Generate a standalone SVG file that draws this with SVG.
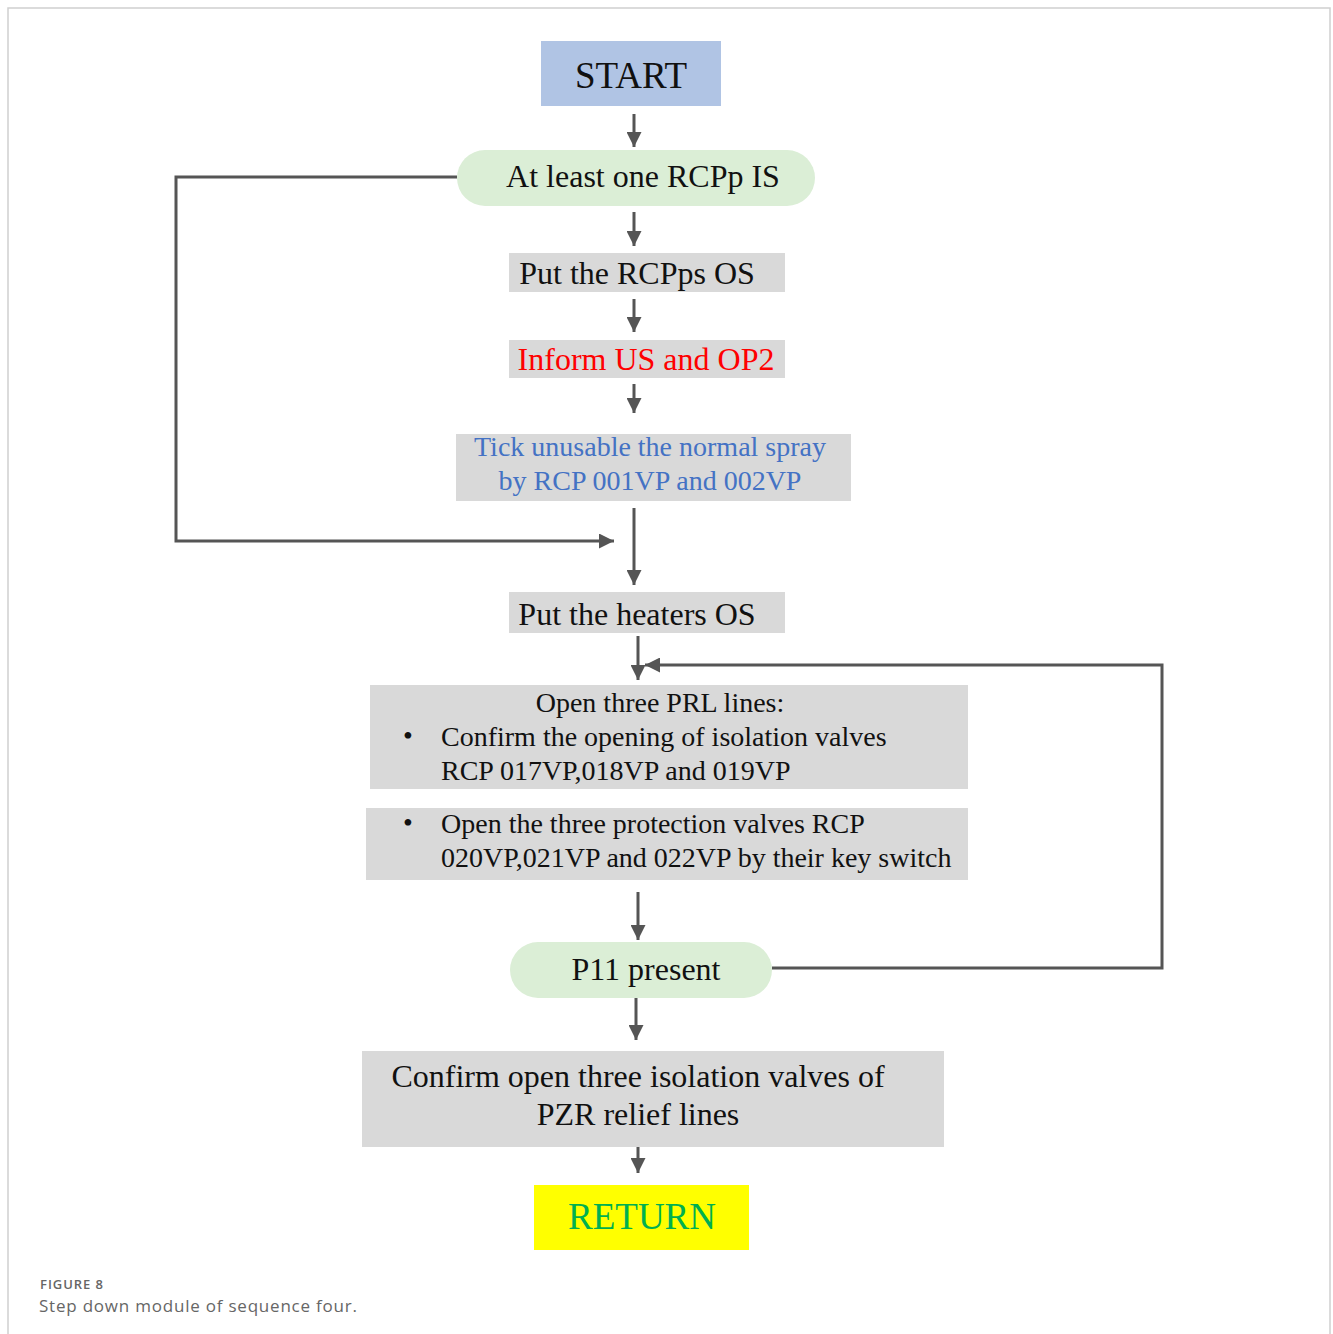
<svg xmlns="http://www.w3.org/2000/svg" width="1333" height="1334" viewBox="0 0 1333 1334">
<defs>
<style>
.t{font-family:"Liberation Serif","DejaVu Serif",serif;text-anchor:middle;fill:#111}
.l{font-family:"Liberation Serif","DejaVu Serif",serif;fill:#111}
.c{stroke:#555;stroke-width:3;fill:none}
.box{fill:#d9d9d9}
.pill{fill:#dbeed6}
.cap{font-family:"Open Sans","Noto Sans",sans-serif;fill:#666}
</style>
<marker id="ah" viewBox="0 0 10 10" refX="10" refY="5" markerWidth="5" markerHeight="5" markerUnits="strokeWidth" orient="auto">
<path d="M0,0 L10,5 L0,10 Z" fill="#555"/>
</marker>
</defs>
<rect x="0" y="0" width="1333" height="1334" fill="#fff"/>
<path d="M8,1334 V8 H1330 V1334" fill="none" stroke="#d0d0d0" stroke-width="1.5"/>

<g id="connectors">
<path class="c" d="M634,114 V147" marker-end="url(#ah)"/>
<path class="c" d="M634,212 V246" marker-end="url(#ah)"/>
<path class="c" d="M634,299 V332" marker-end="url(#ah)"/>
<path class="c" d="M634,384 V413" marker-end="url(#ah)"/>
<path class="c" d="M634,508 V585" marker-end="url(#ah)"/>
<path class="c" d="M457,177 H176 V541 H614" marker-end="url(#ah)"/>
<path class="c" d="M638,636 V680" marker-end="url(#ah)"/>
<path class="c" d="M772,968 H1162 V665 H645" marker-end="url(#ah)"/>
<path class="c" d="M638,892 V940" marker-end="url(#ah)"/>
<path class="c" d="M636,998 V1040" marker-end="url(#ah)"/>
<path class="c" d="M638,1147 V1173" marker-end="url(#ah)"/>
</g>

<g id="start">
<rect x="541" y="41" width="180" height="65" fill="#b0c4e4"/>
<text class="t" x="631" y="88" font-size="37">START</text>
</g>

<g id="rcpp-is">
<rect class="pill" x="457" y="150" width="358" height="56" rx="28"/>
<text class="t" x="643" y="187" font-size="32">At least one RCPp IS</text>
</g>

<g id="put-rcpps-os">
<rect class="box" x="509" y="253" width="276" height="39"/>
<text class="t" x="637" y="284" font-size="32">Put the RCPps OS</text>
</g>

<g id="inform">
<rect class="box" x="509" y="340" width="276" height="38"/>
<text class="t" x="646" y="370" font-size="32" style="fill:#ff0000">Inform US and OP2</text>
</g>

<g id="tick">
<rect class="box" x="456" y="434" width="395" height="67"/>
<text class="t" x="650" y="456" font-size="28" style="fill:#4472c4">Tick unusable the normal spray</text>
<text class="t" x="650" y="490" font-size="28" style="fill:#4472c4">by RCP 001VP and 002VP</text>
</g>

<g id="heaters">
<rect class="box" x="509" y="592" width="276" height="41"/>
<text class="t" x="637" y="625" font-size="32">Put the heaters OS</text>
</g>

<g id="prl">
<rect class="box" x="370" y="685" width="598" height="104"/>
<text class="t" x="660" y="712" font-size="28">Open three PRL lines:</text>
<text class="l" x="403" y="745" font-size="28">•</text>
<text class="l" x="441" y="746" font-size="28">Confirm the opening of isolation valves</text>
<text class="l" x="441" y="780" font-size="28">RCP 017VP,018VP and 019VP</text>
</g>

<g id="protection">
<rect class="box" x="366" y="808" width="602" height="72"/>
<text class="l" x="403" y="832" font-size="28">•</text>
<text class="l" x="441" y="833" font-size="28">Open the three protection valves RCP</text>
<text class="l" x="441" y="867" font-size="28">020VP,021VP and 022VP by their key switch</text>
</g>

<g id="p11">
<rect class="pill" x="510" y="942" width="262" height="56" rx="28"/>
<text class="t" x="646" y="980" font-size="32">P11 present</text>
</g>

<g id="confirm">
<rect class="box" x="362" y="1051" width="582" height="96"/>
<text class="t" x="638" y="1087" font-size="32">Confirm open three isolation valves of</text>
<text class="t" x="638" y="1125" font-size="32">PZR relief lines</text>
</g>

<g id="return">
<rect x="534" y="1185" width="215" height="65" fill="#ffff00"/>
<text class="t" x="642" y="1229" font-size="37" style="fill:#00b050">RETURN</text>
</g>

<text class="cap" x="40" y="1289" font-size="13" font-weight="600" textLength="63">FIGURE 8</text>
<text class="cap" x="39" y="1312" font-size="17" textLength="318">Step down module of sequence four.</text>
</svg>
